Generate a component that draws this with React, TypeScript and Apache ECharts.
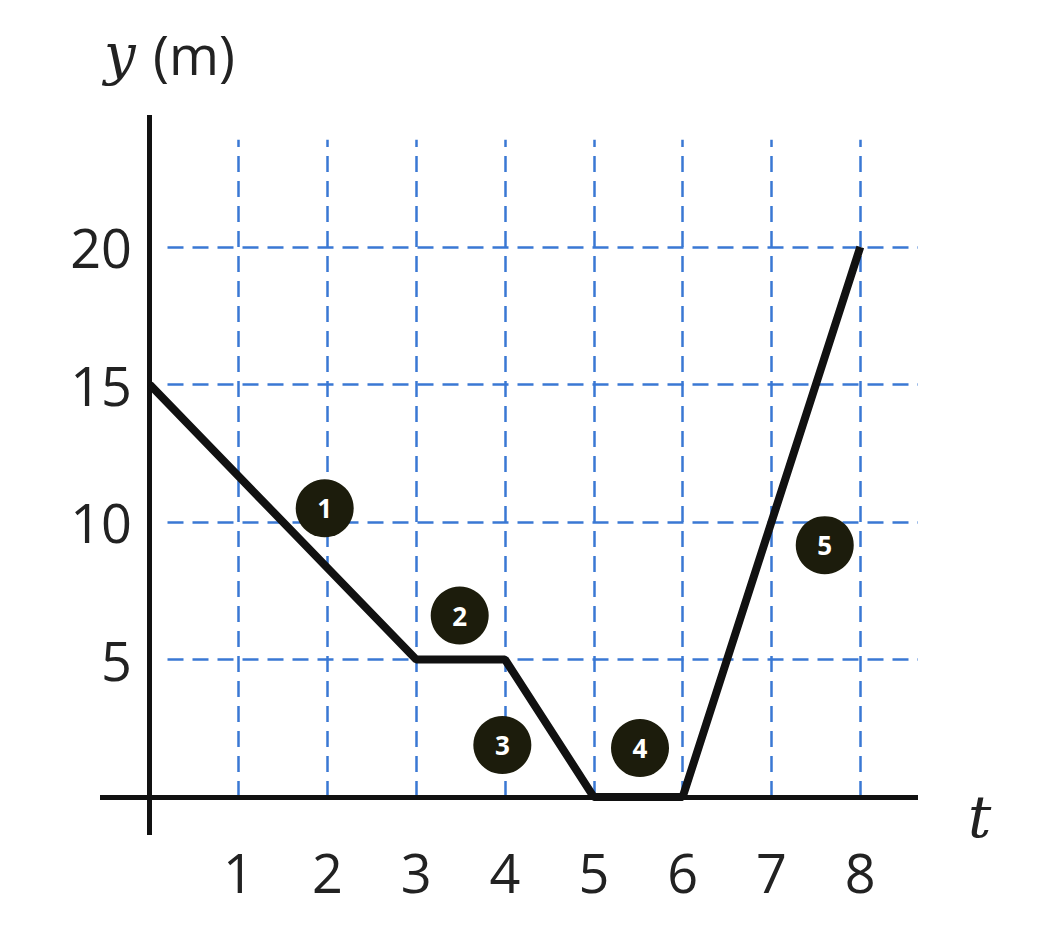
import React, { useEffect, useRef } from "react";
import * as echarts from "echarts";

const pathPoints = [[0, 15], [3, 5], [4, 5], [5, 0], [6, 0], [8, 20]];
const markers = [
  { name: "1", value: [1.97, 10.5] },
  { name: "2", value: [3.49, 6.6] },
  { name: "3", value: [3.97, 1.89] },
  { name: "4", value: [5.52, 1.78] },
  { name: "5", value: [7.6, 9.16] },
];
const xTicks = [1, 2, 3, 4, 5, 6, 7, 8];
const yTicks = [5, 10, 15, 20];
const X_MIN = -0.56, X_MAX = 8.65, Y_MIN = -1.38, Y_MAX = 24.8;

export default function App() {
  const ref = useRef<HTMLDivElement>(null);
  useEffect(() => {
    const chart = echarts.init(ref.current!, null, { renderer: "svg" });
    const blue = { color: "#3a78d4", width: 2.5, type: [16, 9] as any };
    const black = { color: "#111", width: 5, type: "solid" as any };
    const gridLines: any[] = [];
    xTicks.forEach((x) => gridLines.push([{ coord: [x, 0], lineStyle: blue }, { coord: [x, 23.9] }]));
    yTicks.forEach((y) => gridLines.push([{ coord: [0.2, y], lineStyle: blue }, { coord: [X_MAX, y] }]));
    gridLines.push([{ coord: [0, Y_MIN], lineStyle: black }, { coord: [0, Y_MAX] }]);
    gridLines.push([{ coord: [X_MIN, 0], lineStyle: black }, { coord: [X_MAX, 0] }]);
    chart.setOption({
      animation: false,
      grid: { left: 92, right: 111, top: 107, bottom: 83 },
      xAxis: {
        type: "value", min: X_MIN, max: X_MAX,
        axisLine: { show: false }, axisTick: { show: false }, splitLine: { show: false },
        axisLabel: { customValues: xTicks, fontSize: 54, color: "#222", margin: 10, fontFamily: "Open Sans" },
      },
      yAxis: {
        type: "value", min: Y_MIN, max: Y_MAX,
        axisLine: { show: false }, axisTick: { show: false }, splitLine: { show: false },
        axisLabel: { customValues: yTicks, fontSize: 54, color: "#222", margin: -32, fontFamily: "Open Sans" },
      },
      graphic: [
        {
          type: "text", left: 96, top: 18,
          style: {
            text: "{i|y} {n|(m)}",
            rich: {
              i: { fontFamily: "DejaVu Serif", fontStyle: "italic", fontSize: 56, fill: "#222", padding: [0, 14, 0, 0] },
              n: { fontFamily: "Open Sans", fontSize: 54, fill: "#222" },
            },
          },
        },
        {
          type: "text", left: 960, top: 780,
          style: { text: "t", fontFamily: "DejaVu Serif", fontStyle: "italic", fontSize: 58, fill: "#222" },
        },
      ],
      series: [
        {
          type: "line", data: [], silent: true,
          markLine: { symbol: "none", silent: true, label: { show: false }, data: gridLines },
        },
        {
          type: "line", data: pathPoints, symbol: "none",
          lineStyle: { color: "#111", width: 8 }, z: 5,
        },
        {
          type: "scatter", data: markers, symbolSize: 58, z: 6,
          itemStyle: { color: "#1c1c0c", opacity: 1 },
          label: { show: true, position: "inside", formatter: "{b}", color: "#fff", fontSize: 26, fontWeight: "bold", fontFamily: "Open Sans" },
        },
      ],
    });
    return () => chart.dispose();
  }, []);
  return <div ref={ref} style={{ width: 1021, height: 910 }} />;
}
